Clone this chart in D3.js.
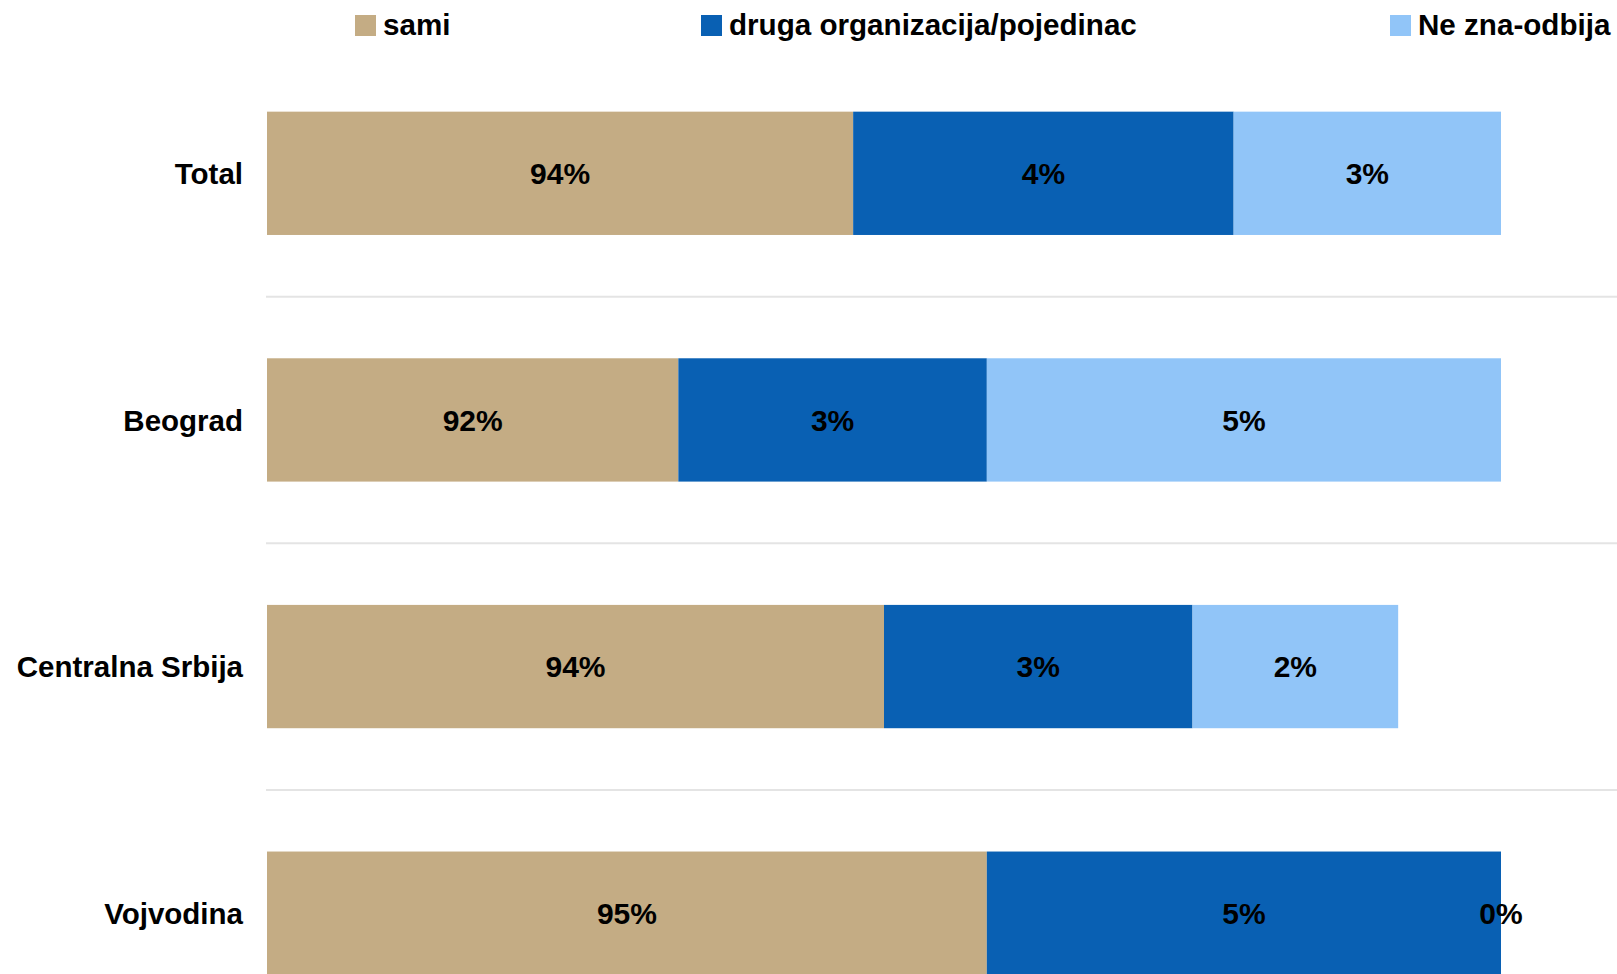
<!DOCTYPE html>
<html>
<head>
<meta charset="utf-8">
<script src="https://cdn.jsdelivr.net/npm/d3@7"></script>
<style>
  html, body { margin: 0; padding: 0; background: #fff; }
  svg { display: block; font-family: "Liberation Sans", Arial, sans-serif; font-weight: bold; }
</style>
</head>
<body>
<svg id="chart" width="1617" height="974"></svg>
<script>
// ---- data ----
const categories = ["Total", "Beograd", "Centralna Srbija", "Vojvodina"];
const seriesNames = ["sami", "druga organizacija/pojedinac", "Ne zna-odbija"];
const sami = [93.7, 92.0, 94.0, 95.0];
const druga = [3.7, 3.0, 3.0, 5.0];
const neZna = [2.6, 5.0, 2.0, 0.0];
const xDomain = [88, 100];

// ---- layout ----
const W = 1617, H = 974;
const colors = ["#c4ac84", "#0960b3", "#91c5f8"];
const svg = d3.select("#chart");

const x = d3.scaleLinear().domain(xDomain).range([267, 1501]);
const y = d3.scaleBand().domain(categories).range([50, 1036.5]).paddingInner(0.5).paddingOuter(0.25);

const rows = categories.map((c, i) => ({ cat: c, sami: sami[i], druga: druga[i], neZna: neZna[i] }));
const stack = d3.stack().keys(["sami", "druga", "neZna"])
  .offset((series) => {
    // start stacking from the axis minimum
    for (let j = 0; j < series[0].length; j++) {
      let base = xDomain[0];
      for (let i = 0; i < series.length; i++) {
        const v = series[i][j][1] - series[i][j][0];
        series[i][j][0] = base;
        series[i][j][1] = base + (i === 0 ? v - xDomain[0] : v);
        base = series[i][j][1];
      }
    }
  });
const stacked = stack(rows);

// gridlines between categories
const step = y.step();
svg.append("g").selectAll("line")
  .data(categories.slice(1))
  .join("line")
  .attr("x1", x.range()[0] - 1)
  .attr("x2", W)
  .attr("y1", d => y(d) - step * y.paddingInner() / 2)
  .attr("y2", d => y(d) - step * y.paddingInner() / 2)
  .attr("stroke", "#e4e4e4")
  .attr("stroke-width", 2);

// bars
const groups = svg.append("g").selectAll("g")
  .data(stacked)
  .join("g")
  .attr("fill", (d, i) => colors[i]);

groups.selectAll("rect")
  .data(d => d)
  .join("rect")
  .attr("x", d => x(d[0]))
  .attr("width", d => Math.max(0, x(d[1]) - x(d[0])))
  .attr("y", d => y(d.data.cat))
  .attr("height", y.bandwidth());

// value labels
const labelG = svg.append("g");
stacked.forEach((s, si) => {
  const vals = [sami, druga, neZna][si];
  labelG.selectAll(null)
    .data(s)
    .join("text")
    .attr("x", d => (x(d[0]) + x(d[1])) / 2)
    .attr("y", d => y(d.data.cat) + y.bandwidth() / 2)
    .attr("dy", "0.36em")
    .attr("text-anchor", "middle")
    .attr("font-size", 30)
    .attr("fill", "#000")
    .text((d, i) => Math.round(vals[i]) + "%");
});

// category labels
svg.append("g").selectAll("text")
  .data(categories)
  .join("text")
  .attr("x", 243)
  .attr("y", d => y(d) + y.bandwidth() / 2)
  .attr("dy", "0.36em")
  .attr("text-anchor", "end")
  .attr("font-size", 29.5)
  .attr("fill", "#000")
  .text(d => d);

// legend
const legendX = [355, 701, 1390];
const leg = svg.append("g").selectAll("g")
  .data(seriesNames)
  .join("g")
  .attr("transform", (d, i) => `translate(${legendX[i]},15)`);
leg.append("rect").attr("width", 21).attr("height", 21).attr("fill", (d, i) => colors[i]);
leg.append("text")
  .attr("x", 28)
  .attr("y", 20)
  .attr("font-size", 29.6)
  .attr("fill", "#000")
  .text(d => d);
</script>
</body>
</html>
